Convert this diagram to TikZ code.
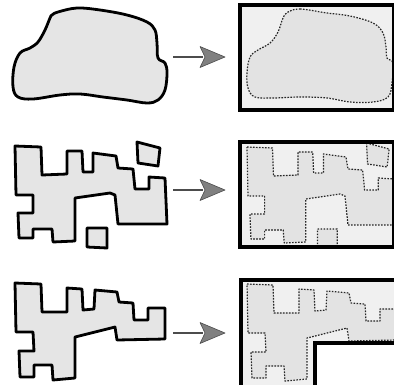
\documentclass[tikz,border=0pt]{standalone}
\begin{document}
\begin{tikzpicture}[x=1pt,y=-1pt,
  outline/.style={draw=black,line width=2.8pt,line join=round,fill=black!10},
  boxfill/.style={fill=black!6},
  boxline/.style={draw=black,line width=3.6pt},
  inner/.style={draw=black!85,line width=1.2pt,dash pattern=on 1.6pt off 1.4pt,fill=black!11,line join=round},
  shaft/.style={draw=black!70,line width=2.4pt},
  head/.style={fill=black!50,draw=black!70,line width=0.6pt,line join=round}]
\useasboundingbox (0,0) rectangle (394,384);
\def\blobA{(52,15) (58,12) (77,8) (100,10) (127,15) (147,22) (155,30) (157,43) (158,58) (165,63) (167,73) (165,90) (158,100) (147,103) (127,100) (103,97) (80,94) (60,95) (33,99) (18,97) (13,87) (14,67) (20,53) (30,48) (38,42) (45,30) (50,18)}
\def\blobB{(288,12) (300,9) (327,13) (350,16) (373,23) (383,33) (386,47) (387,58) (393,63) (392,83) (388,97) (373,102) (350,102) (327,98) (300,97) (273,98) (255,97) (248,88) (247,73) (250,57) (258,50) (270,43) (278,32) (283,18)}
\def\polyB{(15,146) -- (41,147) -- (42,175) -- (67,174) -- (67,151) -- (82,151) -- (83,172) -- (93,172) -- (93,153) -- (116,156) -- (118,168) -- (133,169) -- (135,189) -- (149,189) -- (149,177) -- (165,178) -- (167,224) -- (118,224) -- (115,195) -- (110,193) -- (75,198) -- (75,241) -- (53,242) -- (52,229) -- (33,229) -- (33,238) -- (19,238) -- (18,213) -- (33,213) -- (33,195) -- (16,195) -- cycle}
\def\quadA{(137,142) -- (160,148) -- (158,166) -- (138,163) -- cycle}
\def\quadB{(87,228) -- (107,228) -- (107,248) -- (87,247) -- cycle}
\def\polyC{(15,283) -- (41,284) -- (42,312) -- (67,312) -- (67,288) -- (82,289) -- (83,310) -- (94,309) -- (95,290) -- (117,292) -- (119,302) -- (133,303) -- (134,320) -- (148,320) -- (148,308) -- (165,308) -- (165,339) -- (117,340) -- (115,327) -- (75,337) -- (75,378) -- (53,380) -- (52,365) -- (34,365) -- (34,377) -- (20,377) -- (19,351) -- (34,351) -- (33,332) -- (16,332) -- cycle}
% ---------- row 1
\draw[outline] plot[smooth cycle,tension=0.6] coordinates {\blobA};
\fill[boxfill] (240,5) rectangle (393.5,110);
\begin{scope}
  \clip (240,5) rectangle (393.5,110);
  \draw[inner] plot[smooth cycle,tension=0.6] coordinates {\blobB};
\end{scope}
\draw[boxline] (240,5) rectangle (393.5,110);
\coordinate (a1s) at (173,57); \coordinate (a1e) at (203,57);
\draw[shaft] (a1s) -- (a1e);
\draw[head] (225,57) -- (200,46.5) -- (205,57) -- (200,67.5) -- cycle;
% ---------- row 2
\draw[outline] \polyB;
\draw[outline] \quadA;
\draw[outline] \quadB;
\fill[boxfill] (240,142) rectangle (393.5,247);
\begin{scope}
  \clip (240,142) rectangle (393.5,247);
  \begin{scope}[shift={(232.3,1)},xscale=0.98]
    \draw[inner] \polyB;
    \draw[inner] \quadA;
    \draw[inner] \quadB;
  \end{scope}
\end{scope}
\draw[boxline] (240,142) rectangle (393.5,247);
\coordinate (a2s) at (173,190); \coordinate (a2e) at (203,190);
\draw[shaft] (a2s) -- (a2e);
\draw[head] (225,190) -- (200,179.5) -- (205,190) -- (200,200.5) -- cycle;
% ---------- row 3
\draw[outline] \polyC;
\def\Lbox{(241,280) -- (396,280) -- (396,343) -- (315,343) -- (315,388) -- (241,388) -- cycle}
\fill[boxfill] \Lbox;
\begin{scope}
  \clip \Lbox;
  \begin{scope}[shift={(232,1)}]
    \draw[inner] \polyC;
  \end{scope}
\end{scope}
\draw[boxline,line join=miter] \Lbox;
\coordinate (a3s) at (173,333); \coordinate (a3e) at (203,333);
\draw[shaft] (a3s) -- (a3e);
\draw[head] (225,333) -- (200,322.5) -- (205,333) -- (200,343.5) -- cycle;
\end{tikzpicture}
\end{document}
